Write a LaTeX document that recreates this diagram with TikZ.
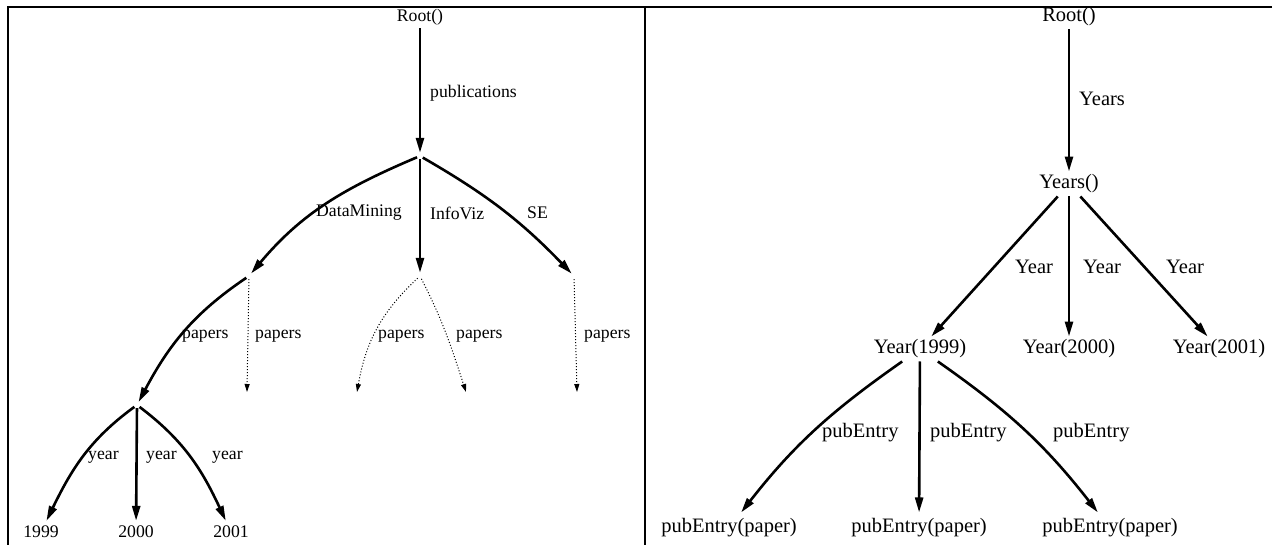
\documentclass[tikz,border=0pt]{standalone}
\usepackage{fontspec}
\setmainfont{Liberation Serif}
\usetikzlibrary{arrows.meta,positioning}

\begin{document}
\begin{tikzpicture}[x=1pt,y=-1pt,>=Triangle,
  edge/.style={line width=2.6pt,-{Triangle[length=15pt,width=8pt]}},
  weak/.style={line width=1pt,dotted,-{Triangle[length=8pt,width=5pt]}},
  dot/.style={circle,inner sep=0pt,minimum size=6pt},
  lt/.style={inner sep=3pt,font=\fontsize{17.7}{20}\selectfont},
  rt/.style={inner sep=3pt,font=\fontsize{20.5}{24}\selectfont},
  ltlab/.style={lt,anchor=west,inner sep=0pt},
  rtlab/.style={rt,anchor=west,inner sep=0pt}]
\useasboundingbox (0,0) rectangle (1281,545);
\draw[line width=2.6pt] (1272,7) -- (8,7) -- (8,545) (645,7) -- (645,545);
% left: publications by topic
\node[lt] (lroot) at (420,17) {Root()};
\node[dot] (pubs) at (420,156) {};
\node[dot] (dm) at (249,276) {};
\node[dot] (iv) at (420,276) {};
\node[dot] (se) at (574,276) {};
\node[dot] (dmp) at (137,405) {};
\coordinate (dmp2) at (247,392);
\coordinate (ivp1) at (357,392);
\coordinate (ivp2) at (466,392);
\coordinate (sep) at (577,392);
\node[lt,inner ysep=5pt] (y99) at (41,532) {1999};
\node[lt,inner ysep=5pt] (y00) at (136,532) {2000};
\node[lt,inner ysep=5pt] (y01) at (231,532) {2001};
\node[ltlab] (lpub) at (430,93) {publications};
\node[ltlab] (ldm) at (316,213) {DataMining};
\node[ltlab] (liv) at (430,213) {InfoViz};
\node[ltlab] (lse) at (527,213) {SE};
\node[ltlab] (lp1) at (182,336) {papers};
\node[ltlab] (lp2) at (255,336) {papers};
\node[ltlab] (lp3) at (378,336) {papers};
\node[ltlab] (lp4) at (456,336) {papers};
\node[ltlab] (lp5) at (584,336) {papers};
\node[ltlab] (ly1) at (88,457) {year};
\node[ltlab] (ly2) at (146,457) {year};
\node[ltlab] (ly3) at (212,457) {year};
\draw[edge] (lroot)--(pubs);
\draw[edge] (pubs) to[out=-157,in=50] (dm);
\draw[edge] (pubs)--(iv);
\draw[edge] (pubs) to[out=-30,in=134] (se);
\draw[edge] (dm) to[out=-146,in=62] (dmp);
\draw[weak] (dm)--(dmp2); \draw[weak] (se)--(sep);
\draw[weak] (iv) to[out=-137,in=80] (ivp1);
\draw[weak] (iv) to[out=-63,in=108] (ivp2);
\draw[edge] (dmp) to[out=-144,in=64] (y99);
\draw[edge] (dmp)--(y00);
\draw[edge] (dmp) to[out=-37,in=115] (y01);
% right: publications by year
\node[rt] (rroot) at (1069,17) {Root()};
\node[rt] (yrs) at (1069,184) {Years()};
\node[rt] (y1999) at (920,349) {Year(1999)};
\node[rt] (y2000) at (1069,349) {Year(2000)};
\node[rt] (y2001) at (1219,349) {Year(2001)};
\node[rt,inner ysep=6pt] (pe1) at (729,528) {pubEntry(paper)};
\node[rt,inner ysep=6pt] (pe2) at (919,528) {pubEntry(paper)};
\node[rt,inner ysep=6pt] (pe3) at (1110,528) {pubEntry(paper)};
\node[rtlab] (lyrs) at (1079,99) {Years};
\node[rtlab] (lyr1) at (1015,267) {Year};
\node[rtlab] (lyr2) at (1083,267) {Year};
\node[rtlab] (lyr3) at (1166,267) {Year};
\node[rtlab] (lpe1) at (822,433) {pubEntry};
\node[rtlab] (lpe2) at (930,433) {pubEntry};
\node[rtlab] (lpe3) at (1053,433) {pubEntry};
\draw[edge] (rroot)--(yrs);
\draw[edge] (yrs)--(y1999); \draw[edge] (yrs)--(y2000); \draw[edge] (yrs)--(y2001);
\draw[edge] (y1999) to[out=-145,in=52] (pe1);
\draw[edge] (y1999)--(pe2);
\draw[edge] (y1999) to[out=-35,in=128] (pe3);
\end{tikzpicture}
\end{document}
